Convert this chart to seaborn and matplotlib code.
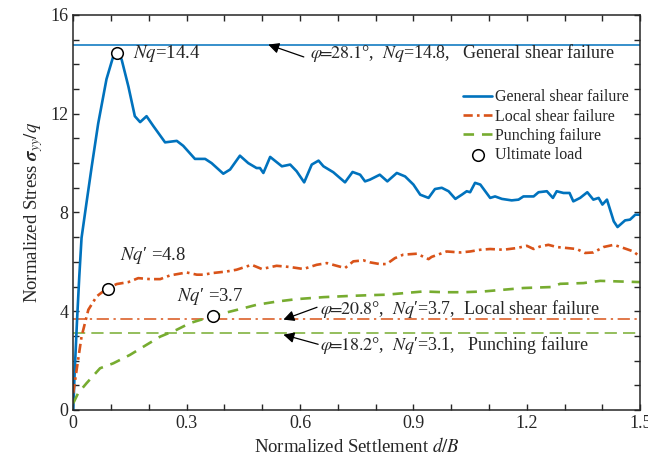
import numpy as np
import pandas as pd
import matplotlib
matplotlib.use("Agg")
import matplotlib.pyplot as plt
import seaborn as sns
from matplotlib.ticker import MultipleLocator, FuncFormatter

# general shear failure curve
gen_x = [0.0, 0.004, 0.01, 0.016, 0.022, 0.035, 0.049, 0.066, 0.088, 0.106, 0.115, 0.128, 0.146,
         0.163, 0.177, 0.194, 0.212, 0.243, 0.274, 0.291, 0.322, 0.349, 0.366, 0.397, 0.415,
         0.441, 0.463, 0.485, 0.494, 0.503, 0.521, 0.552, 0.574, 0.591, 0.611, 0.631, 0.649,
         0.662, 0.688, 0.719, 0.739, 0.759, 0.772, 0.785, 0.811, 0.831, 0.856, 0.878, 0.9,
         0.918, 0.94, 0.957, 0.975, 0.993, 1.011, 1.028, 1.041, 1.05, 1.063, 1.077, 1.103,
         1.116, 1.134, 1.16, 1.178, 1.191, 1.218, 1.231, 1.253, 1.269, 1.279, 1.297, 1.313,
         1.323, 1.341, 1.36, 1.376, 1.39, 1.4, 1.412, 1.43, 1.44, 1.46, 1.473, 1.487, 1.5]
gen_y = [0.0, 1.6, 3.6, 5.4, 6.97, 8.38, 9.87, 11.6, 13.4, 14.33, 14.47, 14.2, 13.1,
         11.9, 11.66, 11.9, 11.5, 10.84, 10.9, 10.7, 10.17, 10.17, 10.0, 9.57, 9.74,
         10.3, 10.0, 9.8, 9.8, 9.6, 10.25, 9.87, 9.94, 9.67, 9.22, 9.94, 10.1,
         9.87, 9.63, 9.22, 9.64, 9.53, 9.26, 9.33, 9.53, 9.26, 9.6, 9.46, 9.13,
         8.72, 8.59, 8.95, 9.0, 8.86, 8.55, 8.72, 8.86, 8.82, 9.2, 9.13, 8.59,
         8.65, 8.55, 8.49, 8.52, 8.65, 8.65, 8.82, 8.86, 8.59, 8.86, 8.79, 8.79,
         8.45, 8.59, 8.82, 8.52, 8.59, 8.32, 8.52, 7.64, 7.41, 7.68, 7.71, 7.91, 7.91]

# local shear failure curve
loc_x = [0.0, 0.009, 0.022, 0.04, 0.062, 0.079, 0.093, 0.115, 0.146, 0.172, 0.203, 0.23, 0.256,
         0.3, 0.327, 0.344, 0.371, 0.406, 0.432, 0.472, 0.499, 0.538, 0.574, 0.609, 0.644,
         0.671, 0.697, 0.719, 0.741, 0.768, 0.785, 0.811, 0.829, 0.851, 0.873, 0.909, 0.94,
         0.948, 0.988, 1.024, 1.05, 1.077, 1.103, 1.138, 1.174, 1.2, 1.218, 1.235, 1.257,
         1.279, 1.306, 1.332, 1.354, 1.376, 1.403, 1.43, 1.456, 1.482, 1.5]
loc_y = [0.68, 1.62, 2.97, 4.06, 4.6, 4.8, 4.94, 5.1, 5.18, 5.34, 5.3, 5.3, 5.45,
         5.57, 5.48, 5.48, 5.55, 5.61, 5.68, 5.88, 5.71, 5.84, 5.79, 5.71, 5.88,
         5.95, 5.84, 5.75, 6.02, 6.06, 5.98, 5.91, 5.91, 6.15, 6.29, 6.33, 6.11,
         6.2, 6.42, 6.38, 6.42, 6.49, 6.52, 6.49, 6.56, 6.65, 6.52, 6.62, 6.69,
         6.6, 6.56, 6.52, 6.36, 6.38, 6.6, 6.69, 6.56, 6.42, 6.2]

# punching failure curve
pun_x = [0.0, 0.013, 0.035, 0.071, 0.106, 0.15, 0.194, 0.23, 0.274, 0.309, 0.371, 0.406, 0.45,
         0.485, 0.538, 0.591, 0.662, 0.732, 0.785, 0.829, 0.873, 0.926, 0.979, 1.032, 1.085,
         1.138, 1.191, 1.266, 1.288, 1.35, 1.394, 1.456, 1.5]
pun_y = [0.27, 0.68, 1.08, 1.69, 1.89, 2.23, 2.64, 2.97, 3.25, 3.52, 3.81, 3.95, 4.12,
         4.26, 4.39, 4.49, 4.57, 4.62, 4.65, 4.67, 4.73, 4.8, 4.77, 4.77, 4.8,
         4.87, 4.94, 4.98, 5.11, 5.14, 5.23, 5.2, 5.18]

# ultimate load points
ult_x = [0.115, 0.092, 0.37]
ult_y = [14.47, 4.92, 3.81]

# theoretical bearing capacity levels
nq_general = 14.8
nq_local = 3.7
nq_punch = 3.1

blue = "#0072BD"
orange = "#D95319"
green = "#77AC30"

sns.set_style("ticks")
plt.rcParams["font.family"] = ["Liberation Serif", "DejaVu Serif"]
plt.rcParams["mathtext.fontset"] = "stix"
plt.rcParams["xtick.direction"] = "in"
plt.rcParams["ytick.direction"] = "in"

fig, ax = plt.subplots(figsize=(6.48, 4.68), dpi=100)
fig.subplots_adjust(left=0.113, right=0.988, top=0.968, bottom=0.124)

ax.axhline(nq_general, color=blue, lw=1.1, ls="-")
ax.axhline(nq_local, color=orange, lw=1.1, ls=(0, (8, 3, 1.5, 3)))
ax.axhline(nq_punch, color=green, lw=1.1, ls=(0, (8, 4)))

dashdot = (0, (3.5, 1.6, 1.0, 1.6))
sns.lineplot(x=gen_x, y=gen_y, ax=ax, color=blue, lw=1.9, label="General shear failure")
sns.lineplot(x=loc_x, y=loc_y, ax=ax, color=orange, lw=1.9, ls=dashdot, label="Local shear failure")
sns.lineplot(x=pun_x, y=pun_y, ax=ax, color=green, lw=1.9, ls=(0, (4, 3)), label="Punching failure")
sns.scatterplot(x=ult_x, y=ult_y, ax=ax, marker="o", s=70, facecolor="white",
                edgecolor="black", linewidth=1.1, zorder=5, label="Ultimate load")

fs = 13.5
ax.text(0.159, 14.45, r"$\mathit{Nq}$=14.4", fontsize=fs, va="center")
ax.text(0.124, 6.25, r"$\mathit{Nq}$′ =4.8", fontsize=fs, va="center")
ax.text(0.274, 4.6, r"$\mathit{Nq}$′ =3.7", fontsize=fs, va="center")

afs = 13
ax.text(0.626, 14.48, r"$\mathit{\varphi}\!\!=\!\!\mathit{28.1}$°,  $\mathit{Nq}$=14.8,   General shear failure",
        fontsize=afs, va="center")
ax.text(0.653, 4.08, r"$\mathit{\varphi}\!\!=\!\!\mathit{20.8}$°,  $\mathit{Nq}$′=3.7,  Local shear failure",
        fontsize=afs, va="center")
ax.text(0.653, 2.64, r"$\mathit{\varphi}\!\!=\!\!\mathit{18.2}$°,  $\mathit{Nq}$′=3.1,   Punching failure",
        fontsize=afs, va="center")

arrow = dict(arrowstyle="-|>", color="black", lw=0.9, mutation_scale=16, shrinkA=0, shrinkB=0)
ax.annotate("", xy=(0.516, 14.8), xytext=(0.61, 14.3), arrowprops=arrow)
ax.annotate("", xy=(0.556, 3.66), xytext=(0.645, 4.16), arrowprops=arrow)
ax.annotate("", xy=(0.556, 3.05), xytext=(0.648, 2.66), arrowprops=arrow)

ax.set_xlim(0, 1.5)
ax.set_ylim(0, 16)
ax.xaxis.set_major_locator(MultipleLocator(0.3))
ax.xaxis.set_minor_locator(MultipleLocator(0.1))
ax.yaxis.set_major_locator(MultipleLocator(4))
ax.yaxis.set_minor_locator(MultipleLocator(1))
ax.xaxis.set_major_formatter(FuncFormatter(lambda v, p: "0" if abs(v) < 1e-9 else f"{v:.1f}"))
ax.yaxis.set_major_formatter(FuncFormatter(lambda v, p: f"{v:.0f}"))
ax.tick_params(which="both", top=True, right=True, length=4, width=1, labelsize=13)
for sp in ax.spines.values():
    sp.set_linewidth(1.1)
    sp.set_color("#262626")

ax.set_xlabel(r"Normalized Settlement $\mathit{d/B}$", fontsize=13.5)
ax.set_ylabel(r"Normalized Stress $\mathbfit{\sigma}_{yy}/\mathit{q}$", fontsize=13.5)

ax.legend(loc="upper right", bbox_to_anchor=(1.0, 0.84), frameon=False, fontsize=11.5,
          handlelength=1.8, handletextpad=0.2, labelspacing=0.2, borderaxespad=0.3)

fig.savefig("out.png", dpi=100)
